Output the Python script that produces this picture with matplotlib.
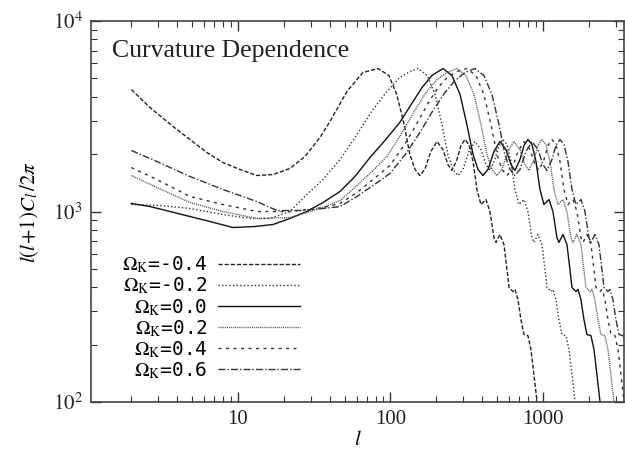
import matplotlib.pyplot as plt
from matplotlib.ticker import LogLocator, FixedLocator, FixedFormatter, NullFormatter

plt.rcParams['font.family'] = ['Liberation Serif', 'DejaVu Serif']
plt.rcParams['mathtext.fontset'] = 'stix'

# l(l+1)C_l/2pi against multipole l
# the damping tail (after the first peak) has the same heights for every curve
cl_tail = [5175, 4114, 2862, 1992, 1662, 1545, 1662, 2065, 2330, 2116,
           1765, 1642, 1875, 2221, 2388, 2247, 1830, 1305, 1088, 1156,
           1000, 730, 688, 757, 671, 496, 399, 380, 390, 345,
           271, 226, 223, 189, 139, 101, 72]

l_m04 = [2.0, 2.65, 3.75, 4.84, 6.26, 7.97, 10.3, 13.3, 17.0, 21.9, 27.5, 34.5, 40.1, 51.8, 66.0, 82.8,
         97.7, 110, 123, 134, 145, 156, 168, 184, 202, 221, 238, 253, 273, 290, 308, 327, 348, 369, 392, 423,
         449, 477, 492, 522, 555, 581, 599, 636, 655, 686, 717, 751, 797, 834, 873, 914, 956]
cl_m04 = [4369, 3514, 2795, 2388, 2040, 1808, 1662, 1545, 1564, 1682, 1944, 2446, 2968, 4265, 5366, 5633] + cl_tail

l_m02 = [2.0, 3.08, 4.84, 7.97, 12.0, 16.2, 21.9, 28.3, 36.1, 46.7, 60.3, 76.8, 94.8, 115, 134, 152,
         174, 196, 218, 238, 257, 277, 299, 327, 358, 392, 423, 449, 485, 515, 546, 581, 617, 655, 696, 751,
         797, 847, 873, 927, 985, 1031, 1063, 1129, 1163, 1217, 1273, 1332, 1415, 1481, 1550, 1621, 1697]
cl_m02 = [1088, 1075, 1037, 964, 919, 919, 1000, 1228, 1472, 1875, 2536, 3431, 4265, 5051, 5431, 5633] + cl_tail

l_00 = [2.0, 2.65, 3.58, 4.84, 6.55, 9.27, 12.9, 17.0, 21.9, 28.3, 36.1, 46.7, 58.5, 73.4, 92.0, 115, 138, 161, 187, 221,
        253, 286, 317, 348, 375, 404, 436, 477, 522, 572, 617, 655, 707, 751, 797, 847, 900, 956, 1015, 1095,
        1163, 1235, 1273, 1352, 1437, 1503, 1550, 1646, 1696, 1775, 1857, 1943, 2064, 2160, 2260, 2365, 2475]
cl_00 = [1102, 1062, 1000, 941, 886, 824, 834, 855, 919, 1000, 1115, 1274, 1527, 1921, 2359, 2932, 3689, 4475, 5175, 5633] + cl_tail

l_02 = [2.0, 2.94, 4.84, 7.97, 13.3, 21.9, 36.1, 46.7, 60.3, 76.8, 94.8, 115, 143, 171, 202, 235, 273,
        313, 353, 392, 429, 463, 499, 538, 589, 645, 706, 762, 809, 873, 928, 984, 1046, 1112, 1181, 1254, 1352,
        1436, 1525, 1572, 1670, 1775, 1856, 1914, 2033, 2095, 2192, 2293, 2400, 2549, 2668, 2791, 2921, 3057]
cl_02 = [1545, 1337, 1115, 1000, 919, 930, 1049, 1142, 1369, 1642, 1944, 2476, 3349, 4213, 4931, 5366, 5633] + cl_tail

l_04 = [2.0, 2.94, 4.84, 7.97, 13.3, 21.9, 36.1, 46.7, 60.3, 76.8, 99.2, 125, 149, 176, 205, 235, 273, 317,
        364, 410, 456, 499, 539, 581, 626, 686, 751, 822, 887, 941, 1016, 1079, 1145, 1217, 1293, 1374, 1459,
        1574, 1671, 1775, 1829, 1943, 2065, 2160, 2227, 2365, 2437, 2551, 2668, 2792, 2966, 3104, 3248, 3398, 3557]
cl_04 = [1702, 1472, 1199, 1088, 1000, 1000, 1049, 1102, 1258, 1472, 1744, 2275, 2897, 3689, 4475, 5051, 5431, 5633] + cl_tail

l_06 = [2.0, 2.94, 4.84, 7.97, 13.3, 18.0, 25.5, 36.1, 46.7, 60.3, 76.8, 99.2, 125, 156, 190, 228, 265, 308, 358,
        410, 463, 515, 563, 608, 655, 707, 774, 847, 927, 1000, 1062, 1146, 1217, 1292, 1373, 1459, 1550,
        1645, 1775, 1885, 2002, 2064, 2192, 2329, 2436, 2513, 2668, 2749, 2877, 3010, 3150, 3346, 3501, 3663, 3834, 4012]
cl_06 = [2091, 1830, 1527, 1305, 1128, 1012, 1012, 1037, 1062, 1199, 1369, 1583, 1992, 2598, 3390, 4213, 4873, 5366, 5633] + cl_tail

labels = ['-0.4', '-0.2', '0.0', '0.2', '0.4', '0.6']
curves = [(l_m04, cl_m04), (l_m02, cl_m02), (l_00, cl_00), (l_02, cl_02), (l_04, cl_04), (l_06, cl_06)]

styles = [
    dict(dashes=(3, 1.4), color='#222222'),
    dict(dashes=(1, 1.6), color='#333333'),
    dict(linestyle='-', color='#111111'),
    dict(dashes=(0.8, 0.7), color='#555555'),
    dict(dashes=(2.2, 3.2), color='#333333'),
    dict(dashes=(5, 1.5, 1, 1.5), color='#333333'),
]

fig = plt.figure(figsize=(6.25, 4.55), dpi=100)
ax = fig.add_axes([0.1456, 0.1165, 0.8528, 0.8373])

for (l, cl), lab, st in zip(curves, labels, styles):
    ax.plot(l, cl, lw=1.0, label=r'$\Omega_{\rm K}$=' + lab, **st)

ax.set_xscale('log')
ax.set_yscale('log')
ax.set_xlim(1.087, 3400)
ax.set_ylim(100, 10000)

ax.xaxis.set_major_locator(FixedLocator([10, 100, 1000]))
ax.xaxis.set_major_formatter(FixedFormatter(['10', '100', '1000']))
ax.xaxis.set_minor_locator(LogLocator(base=10, subs=range(2, 10), numticks=20))
ax.xaxis.set_minor_formatter(NullFormatter())
ax.yaxis.set_major_locator(FixedLocator([100, 1000, 10000]))
ax.yaxis.set_major_formatter(FixedFormatter([r'$10^2$', r'$10^3$', r'$10^4$']))
ax.yaxis.set_minor_locator(LogLocator(base=10, subs=range(2, 10), numticks=20))
ax.yaxis.set_minor_formatter(NullFormatter())

ax.tick_params(which='both', direction='in', top=True, right=True, colors='#333333', labelcolor='#222222')
ax.tick_params(which='major', length=7, width=1.0, labelsize=15, pad=6)
ax.tick_params(which='minor', length=4, width=0.8)
for s in ax.spines.values():
    s.set_color('#444444')
    s.set_linewidth(1.2)

ax.set_xlabel(r'$l$', fontsize=15, labelpad=1)
ax.set_ylabel(r'$l(l\!+\!1)C_l\,/2\pi$', fontsize=15, labelpad=8)

ax.text(0.04, 0.92, 'Curvature Dependence', transform=ax.transAxes,
        fontsize=18.5, color='#222222', va='center', ha='left')

leg = ax.legend(loc='lower right', bbox_to_anchor=(0.41, 0.03), frameon=False,
                markerfirst=False, handlelength=4.2, handletextpad=0.55, labelspacing=0.02,
                borderpad=0, prop={'family': 'DejaVu Sans Mono', 'size': 14})

fig.savefig('out.png', dpi=100)
